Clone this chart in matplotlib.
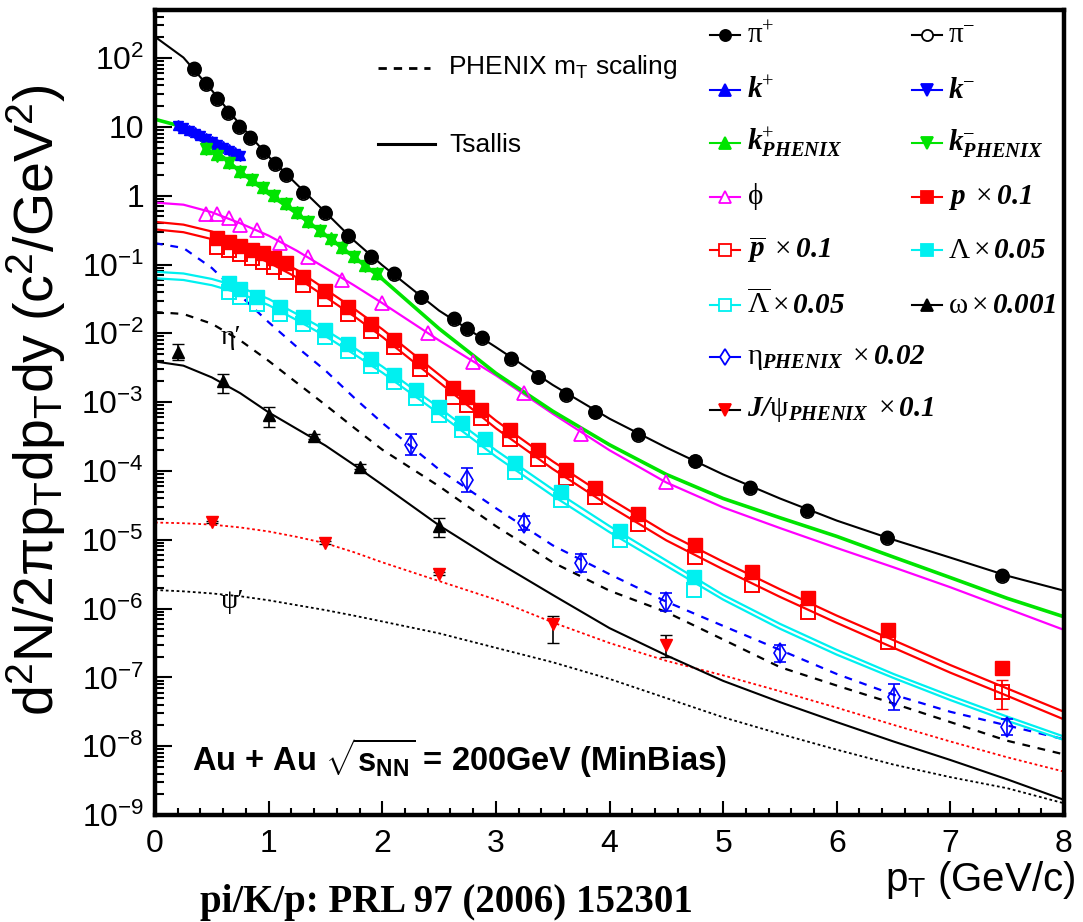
import numpy as np
import matplotlib
matplotlib.use("Agg")
import matplotlib.pyplot as plt
from matplotlib.lines import Line2D
from matplotlib.ticker import LogLocator, MultipleLocator, NullFormatter

plt.rcParams['font.family'] = ['Liberation Sans', 'DejaVu Sans']
plt.rcParams['mathtext.fontset'] = 'custom'
plt.rcParams['mathtext.rm'] = 'Liberation Serif'
plt.rcParams['mathtext.it'] = 'Liberation Serif:italic'
plt.rcParams['mathtext.bf'] = 'Liberation Serif:bold'
plt.rcParams['mathtext.bfit'] = 'Liberation Serif:italic:bold'
plt.rcParams['mathtext.sf'] = 'Liberation Sans'

# ---- fit curves (Tsallis / mT scaling) ----
pt_fit = [0, 0.25, 0.5, 0.75, 1.0, 1.25, 1.5, 1.75, 2.0, 2.5, 3.0, 3.5,
          4.0, 4.5, 5.0, 5.5, 6.0, 6.5, 7.0, 7.5, 8.0]
pi_fit = [204, 102, 34, 10.7, 3.7, 1.45, 0.575, 0.224, 0.0977, 0.0214, 6.3e-3, 1.78e-3,
          5.75e-4, 2.19e-4, 8.9e-5, 3.98e-5, 1.9e-5, 1.0e-5, 5.5e-6, 3.0e-6, 1.82e-6]
k_fit = [12.9, 10.0, 5.0, 2.24, 1.07, 0.55, 0.269, 0.129, 0.0617, 0.0117, 2.63e-3, 7.4e-4,
         2.4e-4, 8.9e-5, 3.98e-5, 2.09e-5, 1.12e-5, 5.6e-6, 2.82e-6, 1.41e-6, 7.6e-7]
phi_fit = [0.794, 0.741, 0.575, 0.398, 0.263, 0.158, 0.0891, 0.0501, 0.0275, 7.9e-3, 2.45e-3, 6.8e-4,
           2.0e-4, 6.8e-5, 2.95e-5, 1.48e-5, 7.6e-6, 3.98e-6, 2.04e-6, 1.0e-6, 4.9e-7]
p_fit = [0.417, 0.38, 0.302, 0.214, 0.138, 0.0832, 0.0437, 0.0229, 0.0115, 2.51e-3, 5.4e-4, 1.38e-4,
         3.98e-5, 1.26e-5, 4.8e-6, 1.91e-6, 7.9e-7, 3.47e-7, 1.51e-7, 6.9e-8, 3.16e-8]
pbar_fit = [0.324, 0.295, 0.234, 0.166, 0.107, 0.0646, 0.0339, 0.0178, 8.9e-3, 1.95e-3, 4.17e-4, 1.07e-4,
            3.09e-5, 9.8e-6, 3.72e-6, 1.48e-6, 6.2e-7, 2.69e-7, 1.17e-7, 5.4e-8, 2.45e-8]
lam_fit = [0.0785, 0.0741, 0.0617, 0.0468, 0.0316, 0.019, 0.0112, 6.2e-3, 3.3e-3, 8.3e-4, 2.0e-4, 5.4e-5,
           1.58e-5, 5.0e-6, 1.58e-6, 6.0e-7, 2.51e-7, 1.12e-7, 5.4e-8, 2.69e-8, 1.38e-8]
lbar_fit = [0.0631, 0.0596, 0.0501, 0.038, 0.0257, 0.0155, 9.1e-3, 5.0e-3, 2.69e-3, 6.8e-4, 1.62e-4, 4.37e-5,
            1.29e-5, 4.17e-6, 1.35e-6, 5.1e-7, 2.14e-7, 9.8e-8, 4.68e-8, 2.34e-8, 1.23e-8]
eta_fit = [0.204, 0.174, 0.0891, 0.0355, 0.0145, 6.3e-3, 2.88e-3, 1.17e-3, 5.0e-4, 1.05e-4, 2.88e-5, 8.3e-6,
           3.16e-6, 1.26e-6, 5.6e-7, 2.51e-7, 1.12e-7, 5.6e-8, 3.16e-8, 2.0e-8, 1.26e-8]
etap_fit = [0.0204, 0.0191, 0.0138, 7.9e-3, 3.98e-3, 1.9e-3, 9.1e-4, 4.27e-4, 2.04e-4, 6.0e-5, 1.58e-5, 4.7e-6,
            1.82e-6, 8.9e-7, 3.55e-7, 1.41e-7, 7.6e-8, 4.17e-8, 2.24e-8, 1.2e-8, 7.6e-9]
omega_fit = [3.9e-3, 3.39e-3, 2.29e-3, 1.35e-3, 7.1e-4, 4.07e-4, 2.34e-4, 1.23e-4, 6.3e-5, 1.62e-5, 4.9e-6, 1.58e-6,
             5.2e-7, 2.09e-7, 8.9e-8, 4.37e-8, 2.24e-8, 1.17e-8, 6.3e-9, 3.3e-9, 1.66e-9]
jpsi_fit = [1.78e-5, 1.74e-5, 1.66e-5, 1.51e-5, 1.32e-5, 1.1e-5, 8.9e-6, 6.6e-6, 4.7e-6, 2.51e-6, 1.35e-6, 6.3e-7,
            3.16e-7, 1.74e-7, 1.07e-7, 6.3e-8, 3.63e-8, 2.04e-8, 1.17e-8, 6.9e-9, 4.27e-9]
psip_fit = [1.86e-6, 1.78e-6, 1.66e-6, 1.51e-6, 1.32e-6, 1.12e-6, 9.5e-7, 7.9e-7, 6.5e-7, 4.37e-7, 2.69e-7, 1.66e-7,
            9.5e-8, 5.0e-8, 2.63e-8, 1.51e-8, 8.9e-9, 5.4e-9, 3.55e-9, 2.45e-9, 1.48e-9]

# ---- measured points ----
pt_pi = [0.34, 0.45, 0.55, 0.64, 0.74, 0.84, 0.95, 1.06, 1.15, 1.30, 1.50, 1.70, 1.90, 2.10,
         2.34, 2.63, 2.75, 2.88, 3.13, 3.37, 3.62, 3.87, 4.25, 4.75, 5.24, 5.74, 6.44, 7.45]
pip = [71.6, 43.4, 26.2, 16.4, 10.3, 7.1, 4.45, 2.98, 2.06, 1.13, 0.578, 0.267, 0.132, 0.0743,
       0.034, 0.0165, 0.0118, 0.0087, 4.32e-3, 2.33e-3, 1.3e-3, 7.2e-4, 3.4e-4, 1.4e-4, 5.75e-5, 2.7e-5, 1.08e-5, 3.1e-6]
pim = [70, 42.5, 25.8, 16.0, 10.1, 6.9, 4.35, 2.92, 2.0, 1.1, 0.565, 0.26, 0.129, 0.073,
       0.0333, 0.0162, 0.0115, 0.0085, 4.25e-3, 2.3e-3, 1.28e-3, 7.1e-4, 3.35e-4, 1.38e-4, 5.7e-5, 2.65e-5, 1.07e-5, 3.0e-6]

pt_k = [0.2, 0.25, 0.3, 0.35, 0.4, 0.45, 0.5, 0.55, 0.6, 0.65, 0.7, 0.75]
kp = [10.5, 9.8, 9.1, 8.3, 7.6, 6.9, 6.3, 5.7, 5.2, 4.7, 4.3, 3.9]
km = [10.2, 9.5, 8.8, 8.0, 7.3, 6.7, 6.1, 5.5, 5.0, 4.5, 4.1, 3.8]

pt_kph = [0.45, 0.55, 0.65, 0.75, 0.85, 0.95, 1.05, 1.15, 1.25, 1.35, 1.45, 1.55, 1.65, 1.75, 1.85, 1.95]
kp_ph = [5.0, 4.0, 3.1, 2.3, 1.75, 1.35, 1.03, 0.78, 0.58, 0.43, 0.32, 0.24, 0.18, 0.135, 0.10, 0.075]
km_ph = [4.8, 3.8, 3.0, 2.2, 1.68, 1.3, 0.99, 0.75, 0.56, 0.41, 0.31, 0.23, 0.172, 0.13, 0.096, 0.072]

pt_phi = [0.45, 0.55, 0.65, 0.75, 0.9, 1.1, 1.35, 1.65, 2.0, 2.4, 2.8, 3.25, 3.75, 4.5]
phi = [0.55, 0.55, 0.468, 0.372, 0.316, 0.204, 0.129, 0.0589, 0.0272, 0.0102, 3.89e-3, 1.35e-3, 3.5e-4, 6.9e-5]

pt_p = [0.55, 0.65, 0.75, 0.85, 0.95, 1.05, 1.15, 1.3, 1.5, 1.7, 1.9, 2.1, 2.33,
        2.62, 2.75, 2.87, 3.12, 3.37, 3.62, 3.87, 4.25, 4.75, 5.25, 5.75, 6.45, 7.45]
prot = [0.245, 0.214, 0.186, 0.162, 0.145, 0.123, 0.105, 0.066, 0.0407, 0.0245, 0.0135, 7.9e-3, 3.9e-3,
        1.58e-3, 1.17e-3, 7.6e-4, 3.9e-4, 2.0e-4, 1.02e-4, 5.6e-5, 2.4e-5, 8.3e-6, 3.4e-6, 1.41e-6, 4.9e-7, 1.35e-7]
pbar = [0.182, 0.162, 0.141, 0.126, 0.11, 0.093, 0.079, 0.051, 0.0316, 0.019, 0.0107, 6.3e-3, 3.0e-3,
        1.2e-3, 9.1e-4, 5.9e-4, 2.95e-4, 1.48e-4, 7.9e-5, 4.2e-5, 1.7e-5, 5.6e-6, 2.19e-6, 8.9e-7, 3.3e-7, 6.2e-8]
pbar_lo = 3.5e-8   # last point error bar (7.45 GeV/c)
pbar_hi = 9.1e-8

pt_lam = [0.65, 0.75, 0.9, 1.1, 1.3, 1.5, 1.7, 1.9, 2.1, 2.3, 2.5, 2.7, 2.9, 3.17, 3.57, 4.09, 4.74]
lam = [0.0537, 0.0447, 0.0339, 0.0245, 0.0174, 0.0112, 7.1e-3, 4.27e-3, 2.51e-3, 1.48e-3, 8.5e-4,
       5.0e-4, 2.95e-4, 1.29e-4, 5.0e-5, 1.32e-5, 2.88e-6]
lbar = [0.0398, 0.0339, 0.0263, 0.0191, 0.0135, 8.7e-3, 5.5e-3, 3.3e-3, 1.95e-3, 1.15e-3, 6.6e-4,
        3.9e-4, 2.24e-4, 9.8e-5, 3.8e-5, 1.0e-5, 1.86e-6]

pt_eta = [2.25, 2.75, 3.25, 3.75, 4.5, 5.5, 6.5, 7.5]
eta = [2.4e-4, 7.4e-5, 1.74e-5, 4.57e-6, 1.26e-6, 2.24e-7, 5.2e-8, 1.9e-8]
eta_lo = [1.7e-4, 4.9e-5, 1.38e-5, 3.4e-6, 9.3e-7, 1.7e-7, 3.4e-8, 1.47e-8]
eta_hi = [3.4e-4, 1.12e-4, 2.19e-5, 6.2e-6, 1.7e-6, 2.95e-7, 7.9e-8, 2.45e-8]

pt_omega = [0.2, 0.6, 1.0, 1.4, 1.8, 2.5]
omega = [5.4e-3, 2.0e-3, 6.5e-4, 3.2e-4, 1.15e-4, 1.6e-5]
omega_lo = [4.1e-3, 1.35e-3, 4.4e-4, 2.9e-4, 1.05e-4, 1.1e-5]
omega_hi = [7.1e-3, 2.6e-3, 8.5e-4, 3.5e-4, 1.25e-4, 2.1e-5]

pt_jpsi = [0.5, 1.5, 2.5, 3.5, 4.5]
jpsi = [1.82e-5, 9.1e-6, 3.2e-6, 6.0e-7, 3.0e-7]
jpsi_lo = [1.75e-5, 8.7e-6, 3.05e-6, 3.2e-7, 2.0e-7]
jpsi_hi = [1.9e-5, 9.5e-6, 3.35e-6, 7.9e-7, 4.1e-7]

y_ticks = [1e-9, 1e-8, 1e-7, 1e-6, 1e-5, 1e-4, 1e-3, 1e-2, 1e-1, 1, 10, 100]
y_ticklabels = [r'$\mathdefault{10^{-9}}$', r'$\mathdefault{10^{-8}}$', r'$\mathdefault{10^{-7}}$',
                r'$\mathdefault{10^{-6}}$', r'$\mathdefault{10^{-5}}$', r'$\mathdefault{10^{-4}}$',
                r'$\mathdefault{10^{-3}}$', r'$\mathdefault{10^{-2}}$', r'$\mathdefault{10^{-1}}$',
                '1', '10', r'$\mathdefault{10^{2}}$']
x_ticks = [0, 1, 2, 3, 4, 5, 6, 7, 8]

RED = '#ff0000'
GREEN = '#00e400'
CYAN = '#00f0f0'
MAG = '#ff00ff'
BLUE = '#0000ff'

W, H = 1083, 922


def fx(px):
    return px / W


def fy(py):
    return 1 - py / H


fig = plt.figure(figsize=(W / 100, H / 100), dpi=100)
ax = fig.add_axes([fx(155), fy(815), fx(1064) - fx(155), fy(10) - fy(815)])
ax.set_yscale('log')
ax.set_xlim(0, 8)
ax.set_ylim(1e-9, 500)

# curves
ax.plot(pt_fit, psip_fit, color='black', lw=1.3, ls=(0, (1.5, 1.5)))
ax.plot(pt_fit, jpsi_fit, color=RED, lw=1.3, ls=(0, (1.5, 1.5)))
ax.plot(pt_fit, etap_fit, color='black', lw=1.6, ls=(0, (3.5, 3.5)))
ax.plot(pt_fit, eta_fit, color=BLUE, lw=1.6, ls=(0, (3.5, 3.5)))
ax.plot(pt_fit, omega_fit, color='black', lw=1.5)
ax.plot(pt_fit, lbar_fit, color=CYAN, lw=1.6)
ax.plot(pt_fit, lam_fit, color=CYAN, lw=1.6)
ax.plot(pt_fit, pbar_fit, color=RED, lw=1.6)
ax.plot(pt_fit, p_fit, color=RED, lw=1.6)
ax.plot(pt_fit, phi_fit, color=MAG, lw=1.6)
ax.plot(pt_fit, k_fit, color=GREEN, lw=2.6)
ax.plot(pt_fit, pi_fit, color='black', lw=1.5)

# data points
ax.plot(pt_k, kp, ls='none', marker='^', ms=7, color=BLUE)
ax.plot(pt_k, km, ls='none', marker='v', ms=7, color=BLUE)
ax.plot(pt_kph, kp_ph, ls='none', marker='^', ms=9, color=GREEN)
ax.plot(pt_kph, km_ph, ls='none', marker='v', ms=9, color=GREEN)
ax.plot(pt_phi, phi, ls='none', marker='^', ms=10, mfc='none', mec=MAG, mew=1.3)
ax.plot(pt_p, prot, ls='none', marker='s', ms=10, color=RED)
ax.errorbar([pt_p[-1]], [pbar[-1]], yerr=[[pbar[-1] - pbar_lo], [pbar_hi - pbar[-1]]],
            ls='none', ecolor=RED, elinewidth=1.3, capsize=4)
ax.plot(pt_p, pbar, ls='none', marker='s', ms=10, mfc='none', mec=RED, mew=1.4)
ax.plot(pt_lam, lam, ls='none', marker='s', ms=9.5, color=CYAN)
ax.plot(pt_lam, lbar, ls='none', marker='s', ms=9.5, mfc='none', mec=CYAN, mew=1.4)
ax.plot(pt_pi, pim, ls='none', marker='o', ms=9.5, mfc='none', mec='black', mew=1.2)
ax.plot(pt_pi, pip, ls='none', marker='o', ms=9, color='black')

eta_err = [np.array(eta) - np.array(eta_lo), np.array(eta_hi) - np.array(eta)]
ax.errorbar(pt_eta, eta, yerr=eta_err, ls='none', marker='d', ms=10, mfc='none', mec=BLUE,
            mew=1.2, ecolor=BLUE, elinewidth=1.2, capsize=4)
om_err = [np.array(omega) - np.array(omega_lo), np.array(omega_hi) - np.array(omega)]
ax.errorbar(pt_omega, omega, yerr=om_err, ls='none', marker='^', ms=8, color='black',
            elinewidth=1.2, capsize=4)
jp_err = [np.array(jpsi) - np.array(jpsi_lo), np.array(jpsi_hi) - np.array(jpsi)]
ax.errorbar(pt_jpsi, jpsi, yerr=jp_err, ls='none', marker='v', ms=9, color=RED,
            ecolor='black', elinewidth=1.2, capsize=4)

# axes styling
for s in ax.spines.values():
    s.set_linewidth(3.2)
ax.set_yticks(y_ticks, y_ticklabels)
ax.yaxis.set_minor_locator(LogLocator(base=10, subs=np.arange(2, 10), numticks=40))
ax.yaxis.set_minor_formatter(NullFormatter())
ax.set_xticks(x_ticks, [str(v) for v in x_ticks])
ax.xaxis.set_minor_locator(MultipleLocator(0.2))
ax.tick_params(which='both', direction='in', top=False, right=False, width=1.5)
ax.tick_params(axis='y', which='major', length=12, labelsize=23, pad=8)
ax.tick_params(axis='y', which='minor', length=6.5)
ax.tick_params(axis='x', which='major', length=10, labelsize=23, pad=10)
ax.tick_params(axis='x', which='minor', length=5)

fig.text(fx(36), fy(400), r'$\mathdefault{d^{2}N/2\pi p_{T}dp_{T}dy\ (c^{2}/GeV^{2})}$',
         rotation=90, ha='center', va='center', fontsize=40)
fig.text(fx(1075), fy(880), r'p$\mathdefault{_{T}}$ (GeV/c)', ha='right', va='center', fontsize=29)
fig.text(fx(200), fy(912), 'pi/K/p: PRL 97 (2006) 152301', ha='left', va='baseline', fontsize=28,
         fontweight='bold', family=['Liberation Serif', 'DejaVu Serif'])
fig.text(fx(192), fy(771), r'Au + Au $\mathdefault{\sqrt{s_{NN}}}$ = 200GeV (MinBias)',
         ha='left', va='baseline', fontsize=23.5, fontweight='bold')
fig.text(fx(231), fy(337), 'η′', ha='center', va='center', fontsize=20,
         family=['Liberation Serif', 'DejaVu Serif'])
fig.text(fx(232), fy(601), 'ψ′', ha='center', va='center', fontsize=20,
         family=['Liberation Serif', 'DejaVu Serif'])


# hand-placed legend
def sample(x0, x1, y, color, ls='-', lw=1.5, marker=None, mfc=None, mec=None, ms=8):
    fig.add_artist(Line2D([fx(x0), fx(x1)], [fy(y), fy(y)], color=color, ls=ls, lw=lw,
                          transform=fig.transFigure))
    if marker:
        fig.add_artist(Line2D([fx((x0 + x1) / 2)], [fy(y)], ls='none', marker=marker, ms=ms,
                              mfc=mfc, mec=mec, mew=1.3, transform=fig.transFigure))


sample(378, 430, 68, 'black', ls=(0, (3, 2.5)), lw=2)
fig.text(fx(448), fy(67), r'PHENIX m$\mathdefault{_{T}}$ scaling', ha='left', va='center', fontsize=19)
sample(378, 435, 144, 'black', lw=2.2)
fig.text(fx(449), fy(145), 'Tsallis', ha='left', va='center', fontsize=19)

legend_rows = [35, 90, 143, 197, 250, 305, 357, 410]
col_x = [(710, 740, 747), (912, 942, 948)]
entries = [
    (0, 0, 'black', 'o', 'black', 'black', r'$\mathrm{\pi}^{+}$'),
    (1, 0, 'black', 'o', 'white', 'black', r'$\mathrm{\pi}^{-}$'),
    (0, 1, BLUE, '^', BLUE, BLUE, r'$\mathbfit{k}^{+}$'),
    (1, 1, BLUE, 'v', BLUE, BLUE, r'$\mathbfit{k}^{-}$'),
    (0, 2, GREEN, '^', GREEN, GREEN, r'$\mathbfit{k}^{+}_{\mathbfit{PHENIX}}$'),
    (1, 2, GREEN, 'v', GREEN, GREEN, r'$\mathbfit{k}^{-}_{\mathbfit{PHENIX}}$'),
    (0, 3, MAG, '^', 'white', MAG, r'$\mathrm{\phi}$'),
    (1, 3, RED, 's', RED, RED, r'$\mathbfit{p}\ \times\mathbfit{0.1}$'),
    (0, 4, RED, 's', 'white', RED, r'$\overline{\mathbfit{p}}\ \times\mathbfit{0.1}$'),
    (1, 4, CYAN, 's', CYAN, CYAN, r'$\mathrm{\Lambda}\times\mathbfit{0.05}$'),
    (0, 5, CYAN, 's', 'white', CYAN, r'$\overline{\mathrm{\Lambda}}\times\mathbfit{0.05}$'),
    (1, 5, 'black', '^', 'black', 'black', r'$\mathrm{\omega}\times\mathbfit{0.001}$'),
    (0, 6, BLUE, 'd', 'white', BLUE, r'$\mathrm{\eta}_{\mathbfit{PHENIX}}\ \times\mathbfit{0.02}$'),
    (0, 7, 'black', 'v', RED, RED, r'$\mathbfit{J/}\mathrm{\psi}_{\mathbfit{PHENIX}}\ \times\mathbfit{0.1}$'),
]
for col, row, lc, mk, fc, ec, label in entries:
    x0, x1, xt = col_x[col]
    y = legend_rows[row]
    sample(x0, x1, y, lc, lw=1.5, marker=mk, mfc=fc, mec=ec, ms=8)
    fig.text(fx(xt), fy(y), label, ha='left', va='center', fontsize=21)

fig.savefig('out.png', dpi=100)
